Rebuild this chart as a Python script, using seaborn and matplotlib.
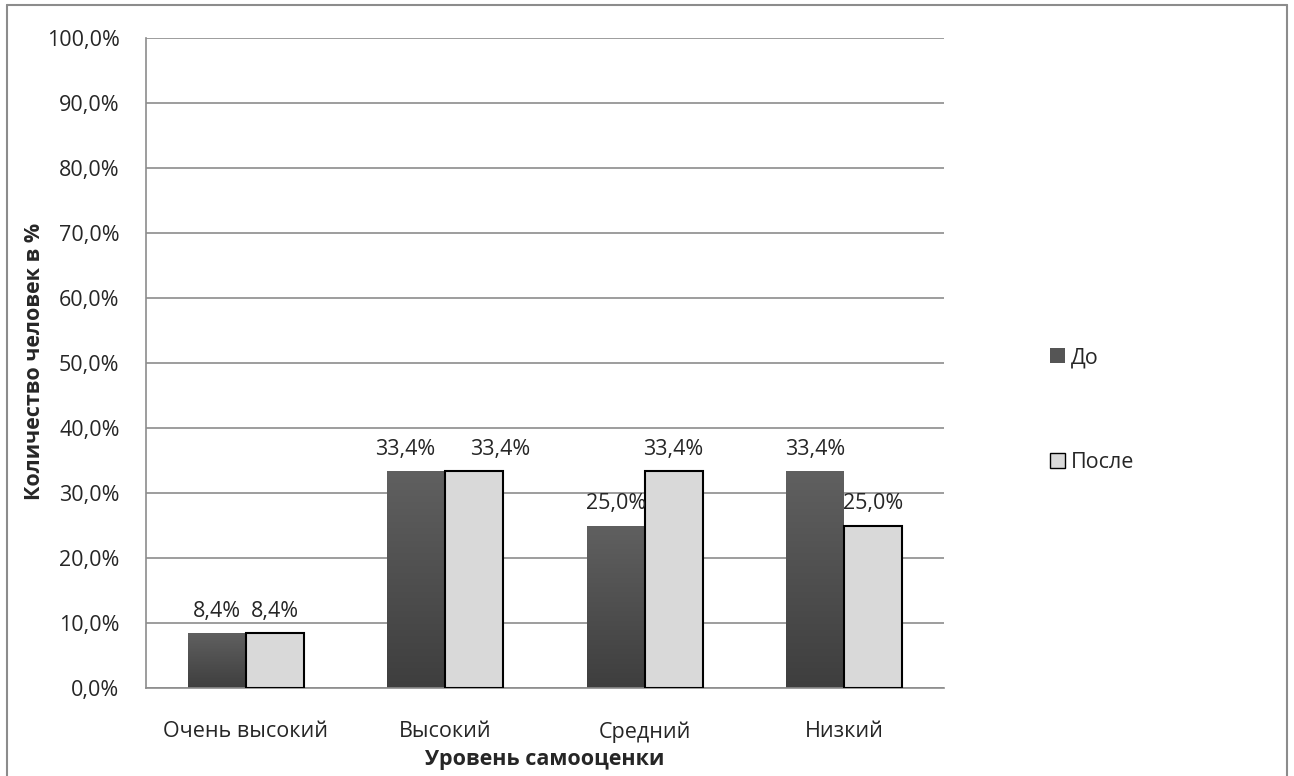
import matplotlib
matplotlib.use("Agg")
import matplotlib.pyplot as plt
import seaborn as sns
import pandas as pd
import numpy as np
from matplotlib.patches import Patch
from matplotlib.lines import Line2D
from matplotlib.colors import LinearSegmentedColormap

categories = ["Очень высокий", "Высокий", "Средний", "Низкий"]
series_names = ["До", "После"]
before = [8.4, 33.4, 25.0, 33.4]
after = [8.4, 33.4, 33.4, 25.0]
yticks = [0, 10, 20, 30, 40, 50, 60, 70, 80, 90, 100]

sns.set_theme(style="white")
plt.rcParams['font.family'] = ['Open Sans', 'DejaVu Sans']

FS = 15.5

df = pd.DataFrame({
    "cat": categories * 2,
    "series": [series_names[0]] * 4 + [series_names[1]] * 4,
    "val": before + after,
})

fig = plt.figure(figsize=(12.94, 7.76), dpi=100)
ax = fig.add_axes([146 / 1294, 1 - 688 / 776, 798 / 1294, 650 / 776])

sns.barplot(data=df, x="cat", y="val", hue="series", order=categories,
            hue_order=series_names, palette=["#555555", "#d9d9d9"],
            width=0.58, gap=0, ax=ax, legend=False, saturation=1)

ax.set_ylim(0, 100)
ax.set_xlim(-0.5, 3.5)
ax.set_yticks(yticks)
ax.set_yticklabels([f"{v:.1f}%".replace(".", ",") for v in yticks], fontsize=FS)
ax.tick_params(axis="x", labelsize=FS, length=0, pad=24)
ax.tick_params(axis="y", length=0, pad=19)
ax.yaxis.grid(True, color="#8c8c8c", linewidth=1.2)
ax.set_axisbelow(True)
for s in ["top", "right"]:
    ax.spines[s].set_visible(False)
for s in ["left", "bottom"]:
    ax.spines[s].set_color("#8c8c8c")
    ax.spines[s].set_linewidth(1.2)

ax.set_xlabel("Уровень самооценки", fontsize=FS, fontweight="bold")
ax.xaxis.set_label_coords(0.5, -(759 - 688) / 650, transform=ax.transAxes)
ax.xaxis.label.set_va("center")
ax.set_ylabel("Количество человек в %", fontsize=FS, fontweight="bold")
ax.yaxis.set_label_coords(-(146 - 35) / 798, 1 - (361 - 38) / 650, transform=ax.transAxes)
ax.yaxis.label.set_va("center")

n = len(categories)
patches = list(ax.patches)
grad = np.linspace(0, 1, 256).reshape(-1, 1)
cmap = LinearSegmentedColormap.from_list("g", ["#3e3e3e", "#606060"])
for i, p in enumerate(patches[:2 * n]):
    if i < n:
        p.set_edgecolor("none")
        x0, y0 = p.get_x(), p.get_y()
        w, h = p.get_width(), p.get_height()
        im = ax.imshow(grad, extent=[x0, x0 + w, y0, y0 + h], origin="lower",
                       cmap=cmap, aspect="auto", zorder=2)
        im.set_clip_path(p)
    else:
        p.set_edgecolor("black")
        p.set_linewidth(1.5)
        p.set_zorder(3)

ax.set_xlim(-0.5, 3.5)
ax.set_ylim(0, 100)

label_sets = []
for c in ax.containers:
    label_sets.append(ax.bar_label(c, labels=[f"{v:.1f}%".replace(".", ",") for v in c.datavalues],
                                   padding=8, fontsize=FS))
# labels of the "Высокий" group were nudged apart in the original
label_sets[0][1].xyann = (-8, 8)
label_sets[1][1].xyann = (19, 8)

handles = [Patch(facecolor="#555555", edgecolor="none", label=series_names[0]),
           Patch(facecolor="#d9d9d9", edgecolor="black", label=series_names[1])]
fig.legend(handles=handles, loc="center left", bbox_to_anchor=(1031 / 1294, 1 - 410 / 776),
           frameon=False, fontsize=FS, handlelength=0.7, handleheight=0.7,
           handletextpad=0.25, labelspacing=3.9)

# outer chart border (left, top, right; bottom is beyond the image)
x0, x1 = 7 / 1294, 1287 / 1294
y1 = 1 - 5 / 776
for xs, ys in [([x0, x0], [0, y1]), ([x0, x1], [y1, y1]), ([x1, x1], [0, y1])]:
    fig.add_artist(Line2D(xs, ys, transform=fig.transFigure, color="#8c8c8c", linewidth=1.5))

fig.savefig("out.png", dpi=100)
